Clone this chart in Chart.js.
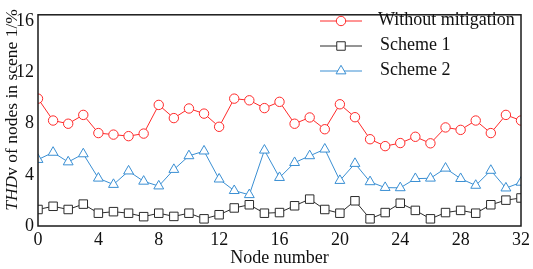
<!DOCTYPE html>
<html>
<head>
<meta charset="utf-8">
<script src="https://cdn.jsdelivr.net/npm/chart.js@4/dist/chart.umd.min.js"></script>
<style>
html,body{margin:0;padding:0;background:#fff;}
#wrap{width:533px;height:269px;position:relative;}
</style>
</head>
<body>
<div id="wrap"><canvas id="c" width="533" height="269"></canvas></div>
<script>
const nodes = [0,1,2,3,4,5,6,7,8,9,10,11,12,13,14,15,16,17,18,19,20,21,22,23,24,25,26,27,28,29,30,31,32];
const withoutMitigation = [9.95,8.24,7.99,8.68,7.26,7.14,7.02,7.22,9.46,8.43,9.18,8.78,7.75,9.95,9.82,9.21,9.70,7.99,8.48,7.56,9.51,8.50,6.78,6.24,6.48,6.97,6.46,7.70,7.51,8.24,7.26,8.68,8.24];
const scheme1 = [1.29,1.54,1.29,1.71,1.00,1.12,1.00,0.73,1.00,0.75,1.00,0.56,0.88,1.41,1.66,1.00,1.05,1.58,2.10,1.29,1.00,1.97,0.56,1.05,1.78,1.22,0.56,1.05,1.22,1.00,1.66,2.02,2.19];
const scheme2 = [5.19,5.75,5.00,5.63,3.73,3.24,4.29,3.49,3.12,4.41,5.48,5.85,3.66,2.76,2.44,5.92,3.78,4.95,5.48,6.00,3.55,4.88,3.45,3.00,2.98,3.70,3.73,4.51,3.70,3.17,4.34,2.96,3.41];
const seriesLabels = ['Without mitigation','Scheme 1','Scheme 2'];
const yTickValues = [0,4,8,12,16];
const yTitleItalic = 'THD';
const yTitleRest = 'v of nodes in scene 1/%';
const xTitle = 'Node number';

const FONT = '"Liberation Serif", "Times New Roman", serif';
const RED = '#ff2a2a', BLACK = '#2b2b2b', BLUE = '#3a8fd3', TXT = '#111';

function toXY(arr){ return arr.map((v,i)=>({x:nodes[i], y:v})); }

const framePlugin = {
  id:'frame',
  afterDraw(chart){
    const {ctx, chartArea:a} = chart;
    ctx.save();
    ctx.strokeStyle = '#1a1a1a';
    ctx.lineWidth = 1.5;
    ctx.strokeRect(a.left, a.top, a.right - a.left, a.bottom - a.top);
    // y title with italic part
    ctx.translate(12, 110);
    ctx.rotate(-Math.PI/2);
    ctx.fillStyle = TXT;
    ctx.textBaseline = 'middle';
    const fi = 'italic 17.5px ' + FONT, fn = '17.5px ' + FONT;
    ctx.font = fi; const w1 = ctx.measureText(yTitleItalic).width;
    ctx.font = fn; const w2 = ctx.measureText(yTitleRest).width;
    let x0 = -(w1 + w2)/2;
    ctx.font = fi; ctx.textAlign = 'left'; ctx.fillText(yTitleItalic, x0, 0);
    ctx.font = fn; ctx.fillText(yTitleRest, x0 + w1, 0);
    ctx.restore();
    // legend
    ctx.save();
    const rows = [21, 46, 71];
    chart.data.datasets.forEach((ds, i) => {
      const y = rows[i];
      ctx.strokeStyle = ds.borderColor;
      ctx.lineWidth = 1;
      ctx.beginPath(); ctx.moveTo(320, y); ctx.lineTo(362, y); ctx.stroke();
      ctx.fillStyle = '#fff';
      Chart.helpers.drawPoint(ctx, {pointStyle: ds.pointStyle, radius: ds.pointRadius, borderWidth: 1, rotation: 0}, 341, y);
      ctx.fillStyle = TXT;
      ctx.font = '18px ' + FONT;
      ctx.textAlign = 'left';
      ctx.textBaseline = 'middle';
      ctx.fillText(ds.label, i === 0 ? 378 : 380, y - 1);
    });
    ctx.restore();
  }
};

function mk(label, data, color, style, r){
  return {label, data: toXY(data), borderColor: color, backgroundColor: color,
    pointStyle: style, pointRadius: r, pointHoverRadius: r, pointBorderWidth: 1,
    pointBackgroundColor: '#fff', pointBorderColor: color, borderWidth: 1, tension: 0, fill: false};
}

new Chart(document.getElementById('c'), {
  type: 'line',
  data: {
    datasets: [
      mk(seriesLabels[0], withoutMitigation, RED, 'circle', 4.7),
      mk(seriesLabels[1], scheme1, BLACK, 'rect', 6),
      mk(seriesLabels[2], scheme2, BLUE, 'triangle', 5.7)
    ]
  },
  options: {
    responsive: false,
    animation: false,
    layout: {padding: {top: 1, right: 1, left: 0, bottom: 0}},
    plugins: {legend: {display: false}, tooltip: {enabled: false}},
    scales: {
      x: {
        type: 'linear', min: 0, max: 32,
        grid: {display: false, drawTicks: false},
        border: {display: false},
        ticks: {stepSize: 4, color: TXT, font: {family: FONT, size: 18}, padding: 3, maxRotation: 0},
        title: {display: true, text: xTitle, color: TXT, font: {family: FONT, size: 18}, padding: {top: 0, bottom: 0}},
        afterFit(s){ s.height = 43; }
      },
      y: {
        min: 0, max: 16.5,
        grid: {display: false, drawTicks: false},
        border: {display: false},
        afterBuildTicks(s){ s.ticks = yTickValues.map(v => ({value: v})); },
        ticks: {color: TXT, font: {family: FONT, size: 18}, padding: 4},
        afterFit(s){ s.width = 38; }
      }
    }
  },
  plugins: [framePlugin]
});
</script>
</body>
</html>
